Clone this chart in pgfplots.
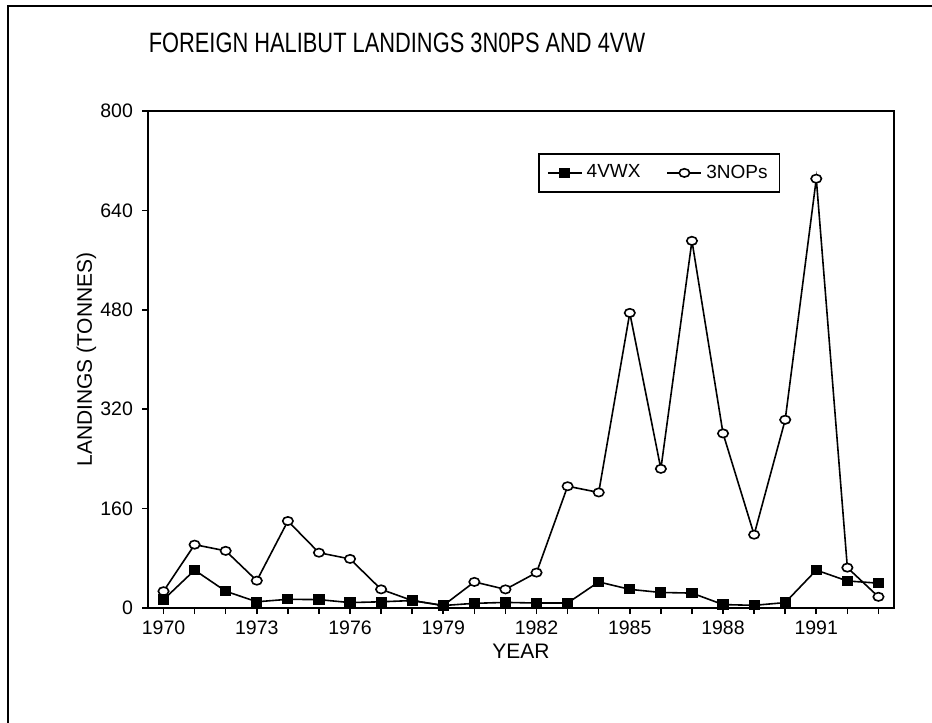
\documentclass[border=0pt]{standalone}
\usepackage{fontspec}
\setmainfont{Liberation Sans}
\newfontfamily\titlefont[FakeStretch=0.78]{Liberation Sans}
\usepackage{pgfplots}
\pgfplotsset{compat=1.18}

% landings in tonnes
\pgfplotstableread{
year  vwx   nops
1970  13.5  27
1971  61    102
1972  27    92
1973  10    44
1974  14    140
1975  13.5  89
1976  8.7   79
1977  10    30
1978  12    12
1979  4     4
1980  7.5   42
1981  9     30
1982  8     57
1983  8     196
1984  42    186
1985  30    475
1986  25    224
1987  24    591
1988  5.5   281
1989  4.3   118
1990  8.7   303
1991  61    691
1992  43.5  65
1993  40    18
}\landings

\begin{document}
\begin{tikzpicture}
\useasboundingbox (-74pt,-57.5pt) rectangle (392pt,304pt);
% page frame (top and left edge only)
\draw[line width=0.9pt] (-70pt,-57.5pt) -- (-70pt,301pt) -- (392pt,301pt);
\node[anchor=base] at (124.5pt,277.5pt)
  {\titlefont\fontsize{14}{16}\selectfont FOREIGN HALIBUT LANDINGS 3N0PS AND 4VW};
\begin{axis}[
  at={(0,0)}, anchor=south west,
  scale only axis, width=373pt, height=248.5pt,
  xmin=1969.5, xmax=1993.5, ymin=0, ymax=800,
  xtick={1970,...,1993},
  xticklabels={1970,,,1973,,,1976,,,1979,,,1982,,,1985,,,1988,,,1991,,},
  ytick={0,160,320,480,640,800},
  xtick pos=bottom, ytick pos=left,
  tick align=outside, major tick length=3pt,
  major tick style={line width=0.8pt,black},
  axis line style={line width=0.9pt},
  /pgf/number format/assume math mode=true,
  tick label style={font=\fontsize{9.75}{11}\selectfont},
  yticklabel style={xshift=-1pt},
  x tick label style={/pgf/number format/1000 sep=},
  xlabel={YEAR}, ylabel={LANDINGS (TONNES)},
  label style={font=\fontsize{10.5}{12}\selectfont},
  xlabel style={at={(axis description cs:0.5,-0.1026)}, anchor=base},
  ylabel style={at={(axis description cs:-0.0751,0.5)}, anchor=base},
  legend columns=2,
  legend style={at={(0.523,0.9155)}, anchor=north west, draw=black,
    line width=0.8pt, font=\fontsize{9.5}{11}\selectfont,
    inner xsep=4pt, inner ysep=3.5pt,
    /tikz/every even column/.append style={column sep=11pt}},
]
\addplot[black, line width=0.8pt, mark=*, mark size=2.6pt,
  mark options={fill=white, yscale=0.8}, forget plot] table[x=year,y=nops] {\landings};
\addplot[black, line width=0.8pt, mark=square*, mark size=2.4pt,
  mark options={yscale=0.9}] table[x=year,y=vwx] {\landings};
\addlegendentry{4VWX}
\addlegendimage{black, line width=0.8pt, mark=*, mark size=2.6pt, mark options={fill=white, yscale=0.8}}
\addlegendentry{3NOPs}
\end{axis}
\end{tikzpicture}
\end{document}
